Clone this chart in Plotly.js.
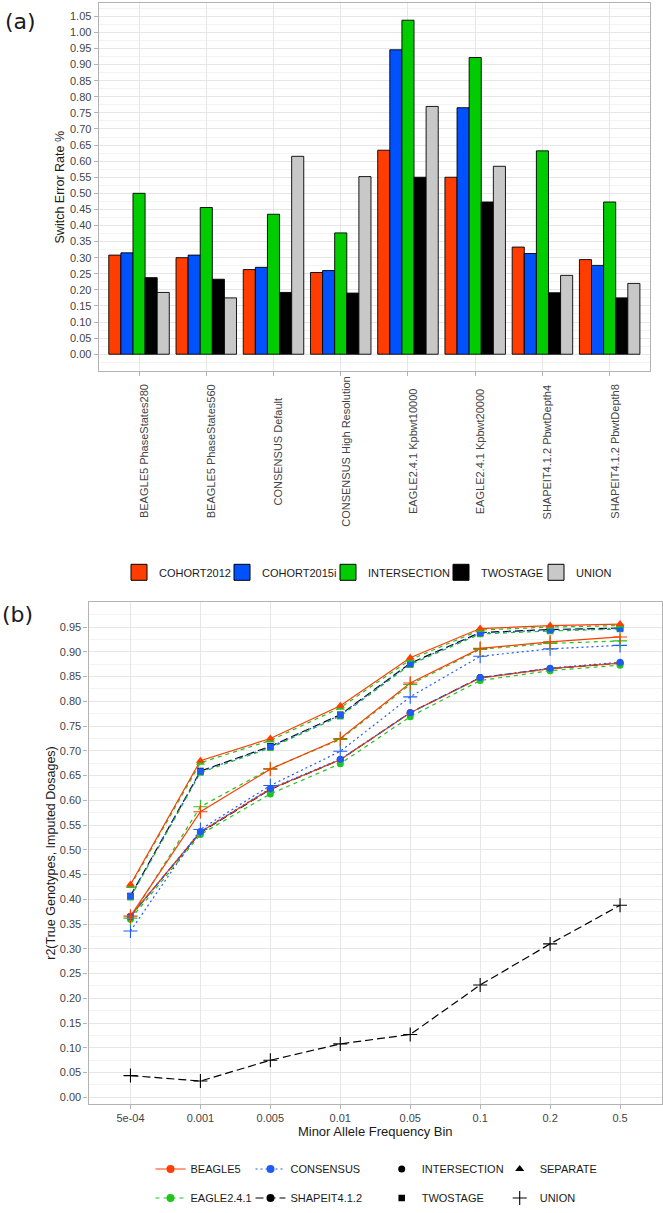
<!DOCTYPE html>
<html>
<head>
<meta charset="utf-8">
<script src="https://cdn.plot.ly/plotly-3.0.1.min.js"></script>
<style>
html,body{margin:0;padding:0;background:#ffffff;}
#chart{width:663px;height:1213px;}
</style>
</head>
<body>
<div id="chart"></div>
<script>
// ---------------- Panel (a): switch error rate ----------------
const methods = ["BEAGLE5 PhaseStates280", "BEAGLE5 PhaseStates560", "CONSENSUS Default",
  "CONSENSUS High Resolution", "EAGLE2.4.1 Kpbwt10000", "EAGLE2.4.1 Kpbwt20000",
  "SHAPEIT4.1.2 PbwtDepth4", "SHAPEIT4.1.2 PbwtDepth8"];
const barNames = ["COHORT2012", "COHORT2015i", "INTERSECTION", "TWOSTAGE", "UNION"];
const serCohort2012   = [0.308, 0.300, 0.263, 0.254, 0.634, 0.550, 0.333, 0.294];
const serCohort2015i  = [0.315, 0.308, 0.270, 0.260, 0.946, 0.766, 0.313, 0.276];
const serIntersection = [0.500, 0.456, 0.435, 0.377, 1.038, 0.922, 0.632, 0.473];
const serTwostage     = [0.238, 0.233, 0.192, 0.190, 0.550, 0.473, 0.191, 0.175];
const serUnion        = [0.192, 0.175, 0.615, 0.552, 0.770, 0.584, 0.245, 0.220];
const yTicksA = [0, 0.05, 0.10, 0.15, 0.20, 0.25, 0.30, 0.35, 0.40, 0.45, 0.50, 0.55,
  0.60, 0.65, 0.70, 0.75, 0.80, 0.85, 0.90, 0.95, 1.00, 1.05];

// ---------------- Panel (b): r2 by MAF bin ----------------
const mafBins = ["5e-04", "0.001", "0.005", "0.01", "0.05", "0.1", "0.2", "0.5"];
const beagle5Separate      = [0.430, 0.680, 0.725, 0.791, 0.888, 0.947, 0.953, 0.956];
const eagleSeparate        = [0.427, 0.676, 0.721, 0.787, 0.884, 0.944, 0.950, 0.953];
const shapeitTwostage      = [0.407, 0.659, 0.709, 0.773, 0.877, 0.939, 0.945, 0.948];
const consensusTwostage    = [0.406, 0.658, 0.708, 0.772, 0.876, 0.938, 0.944, 0.947];
const eagleTwostage        = [0.404, 0.656, 0.706, 0.770, 0.874, 0.936, 0.942, 0.946];
const beagle5Union         = [0.366, 0.577, 0.663, 0.725, 0.837, 0.907, 0.920, 0.930];
const eagleUnion           = [0.362, 0.587, 0.664, 0.723, 0.834, 0.905, 0.917, 0.922];
const consensusUnion       = [0.336, 0.541, 0.630, 0.699, 0.809, 0.891, 0.906, 0.913];
const shapeitIntersection  = [0.366, 0.535, 0.622, 0.682, 0.777, 0.848, 0.866, 0.877];
const beagle5Intersection  = [0.366, 0.536, 0.623, 0.682, 0.777, 0.847, 0.866, 0.877];
const consensusIntersection= [0.365, 0.537, 0.624, 0.683, 0.777, 0.848, 0.867, 0.879];
const eagleIntersection    = [0.360, 0.531, 0.613, 0.674, 0.769, 0.842, 0.862, 0.873];
const shapeitUnion         = [0.044, 0.033, 0.075, 0.108, 0.127, 0.227, 0.310, 0.388];
const yTicksB = [0, 0.05, 0.10, 0.15, 0.20, 0.25, 0.30, 0.35, 0.40, 0.45, 0.50, 0.55,
  0.60, 0.65, 0.70, 0.75, 0.80, 0.85, 0.90, 0.95];

const toolNames = ["BEAGLE5", "EAGLE2.4.1", "CONSENSUS", "SHAPEIT4.1.2"];
const strategyNames = ["INTERSECTION", "TWOSTAGE", "SEPARATE", "UNION"];

// series: [tool, strategy, values] ; drawing order of markers = list order
const seriesB = [
  ["SHAPEIT4.1.2", "UNION", shapeitUnion],
  ["SHAPEIT4.1.2", "INTERSECTION", shapeitIntersection],
  ["BEAGLE5", "INTERSECTION", beagle5Intersection],
  ["EAGLE2.4.1", "INTERSECTION", eagleIntersection],
  ["CONSENSUS", "INTERSECTION", consensusIntersection],
  ["CONSENSUS", "UNION", consensusUnion],
  ["EAGLE2.4.1", "UNION", eagleUnion],
  ["BEAGLE5", "UNION", beagle5Union],
  ["SHAPEIT4.1.2", "TWOSTAGE", shapeitTwostage],
  ["EAGLE2.4.1", "TWOSTAGE", eagleTwostage],
  ["CONSENSUS", "TWOSTAGE", consensusTwostage],
  ["EAGLE2.4.1", "SEPARATE", eagleSeparate],
  ["BEAGLE5", "SEPARATE", beagle5Separate]
];

// ---------------- styles ----------------
const W = 663, H = 1213;
const ML = 88, MR = 1, MT = 3, MB = 98;
const PW = W - ML - MR, PH = H - MT - MB;
const fx = px => (px - ML) / PW;
const fy = py => (H - MB - py) / PH;

const barColors = ["#FF3D00", "#0052FF", "#00CC00", "#000000", "#C8C8C8"];
const barLegendWidths = [58, 61, 68, 50, 40];
const toolStyle = {
  "BEAGLE5":      {color: "#FF3D00", dash: "solid"},
  "CONSENSUS":    {color: "#1F5BF5", dash: "2px,3px"},
  "EAGLE2.4.1":   {color: "#1FC41F", dash: "4px,4px"},
  "SHAPEIT4.1.2": {color: "#000000", dash: "8px,4px"}
};
const stratStyle = {
  "INTERSECTION": {symbol: "circle", size: 7},
  "SEPARATE":     {symbol: "triangle-up", size: 8},
  "TWOSTAGE":     {symbol: "square", size: 6.5},
  "UNION":        {symbol: "cross-thin", size: 10}
};
const FONT = "Liberation Sans, Arial, Helvetica, sans-serif";
const tickColor = "#444444";
const gridMajor = "#E6E6E6", gridMinor = "#F3F3F3", borderCol = "#B3B3B3";
const halfStep = v => v + 0.025;

const traces = [];
// bars (legend drawn by the key traces below, with larger swatches)
[serCohort2012, serCohort2015i, serIntersection, serTwostage, serUnion].forEach((vals, i) => {
  traces.push({
    type: "bar", x: methods, y: vals, name: barNames[i],
    xaxis: "x", yaxis: "y", showlegend: false,
    marker: {color: barColors[i], line: {color: "#000000", width: 0.9}},
    hoverinfo: "skip"
  });
});
barNames.forEach((nm, i) => {
  traces.push({
    type: "scatter", mode: "markers", x: [null], y: [null], name: nm,
    xaxis: "x", yaxis: "y", legend: "legend", legendwidth: barLegendWidths[i],
    marker: {color: barColors[i], symbol: "square", size: 16, line: {color: "#000000", width: 1}},
    hoverinfo: "skip"
  });
});
// lines first (ggplot draws the line layer below the point layer)
seriesB.forEach(s => {
  const st = toolStyle[s[0]];
  traces.push({
    type: "scatter", mode: "lines", x: mafBins, y: s[2], xaxis: "x2", yaxis: "y2",
    line: {color: st.color, dash: st.dash, width: 1.2}, showlegend: false, hoverinfo: "skip"
  });
});
seriesB.forEach(s => {
  const st = toolStyle[s[0]], sh = stratStyle[s[1]];
  const isCross = sh.symbol === "cross-thin";
  traces.push({
    type: "scatter", mode: "markers", x: mafBins, y: s[2], xaxis: "x2", yaxis: "y2",
    marker: {color: st.color, symbol: sh.symbol, size: sh.size,
      line: {color: st.color, width: isCross ? 1.1 : 0}},
    showlegend: false, hoverinfo: "skip"
  });
});
// legend keys for panel (b)
const toolLegendIds = {"BEAGLE5": "legend2", "EAGLE2.4.1": "legend2", "CONSENSUS": "legend3", "SHAPEIT4.1.2": "legend3"};
toolNames.forEach(t => {
  const st = toolStyle[t];
  traces.push({
    type: "scatter", mode: "lines+markers", x: [null], y: [null], xaxis: "x2", yaxis: "y2",
    name: t, legend: toolLegendIds[t], legendgroup: t,
    line: {color: st.color, dash: st.dash, width: 1.2},
    marker: {color: st.color, symbol: "circle", size: 8}, hoverinfo: "skip"
  });
});
const stratLegendIds = {"INTERSECTION": "legend4", "TWOSTAGE": "legend4", "SEPARATE": "legend5", "UNION": "legend5"};
strategyNames.forEach(s => {
  const sh = stratStyle[s];
  traces.push({
    type: "scatter", mode: "markers", x: [null], y: [null], xaxis: "x2", yaxis: "y2",
    name: s, legend: stratLegendIds[s], legendgroup: s,
    marker: {color: "#000000", symbol: sh.symbol, size: sh.size,
      line: {color: "#000000", width: sh.symbol === "cross-thin" ? 1.1 : 0}},
    hoverinfo: "skip"
  });
});

// ---------------- annotations ----------------
const annotations = [];
methods.forEach((m, i) => {
  annotations.push({
    xref: "x", yref: "paper", x: i, y: fy(456), text: m, textangle: -90,
    showarrow: false, xanchor: "center", yanchor: "middle", xshift: 4.5,
    font: {family: FONT, size: 11, color: tickColor}
  });
});
annotations.push({xref: "paper", yref: "paper", x: fx(3), y: fy(22), text: "(a)", showarrow: false,
  xanchor: "left", yanchor: "middle", font: {family: "DejaVu Sans, sans-serif", size: 22, color: "#1a1a1a"}});
annotations.push({xref: "paper", yref: "paper", x: fx(0), y: fy(621), text: "(b)", showarrow: false,
  xanchor: "left", yanchor: "middle", font: {family: "DejaVu Sans, sans-serif", size: 22, color: "#1a1a1a"}});

const baseAxis = {
  showline: true, mirror: true, linecolor: borderCol, linewidth: 1.2,
  showgrid: true, gridcolor: gridMajor, gridwidth: 1, zeroline: false,
  ticks: "outside", ticklen: 4, tickcolor: borderCol, tickwidth: 1,
  tickfont: {family: FONT, size: 11, color: tickColor}
};
const legendBase = {font: {family: FONT, size: 11, color: "#1a1a1a"}, bgcolor: "rgba(0,0,0,0)",
  borderwidth: 0, itemclick: false, itemdoubleclick: false, itemsizing: "trace"};

const layout = {
  width: W, height: H, margin: {l: ML, r: MR, t: MT, b: MB, pad: 0},
  paper_bgcolor: "#ffffff", plot_bgcolor: "#ffffff",
  font: {family: FONT, size: 11, color: "#1a1a1a"},
  barmode: "group", bargap: 0.1, bargroupgap: 0, hovermode: false,
  xaxis: Object.assign({}, baseAxis, {
    domain: [fx(98.7), fx(650)], anchor: "y", type: "category",
    categoryorder: "array", categoryarray: methods, range: [-0.6, 7.6],
    showticklabels: false
  }),
  yaxis: Object.assign({}, baseAxis, {
    domain: [fy(374.6), fy(3.5)], anchor: "x", range: [-0.0519, 1.0899],
    tickmode: "array", tickvals: yTicksA, tickformat: ".2f",
    minor: {tickmode: "array", tickvals: [-0.025].concat(yTicksA.map(halfStep)),
      showgrid: true, gridcolor: gridMinor, gridwidth: 1, ticks: ""},
    title: {text: "Switch Error Rate %", standoff: 2, font: {family: FONT, size: 12.5, color: "#1a1a1a"}}
  }),
  xaxis2: Object.assign({}, baseAxis, {
    domain: [fx(88.5), fx(662)], anchor: "y2", type: "category",
    categoryorder: "array", categoryarray: mafBins, range: [-0.6, 7.6],
    title: {text: "Minor Allele Frequency Bin", standoff: 0, font: {family: FONT, size: 13, color: "#1a1a1a"}}
  }),
  yaxis2: Object.assign({}, baseAxis, {
    domain: [fy(1114.7), fy(608.3)], anchor: "x2", range: [-0.0128, 1.0],
    tickmode: "array", tickvals: yTicksB, tickformat: ".2f",
    minor: {tickmode: "array", tickvals: yTicksB.map(halfStep),
      showgrid: true, gridcolor: gridMinor, gridwidth: 1, ticks: ""},
    title: {text: "r2(True Genotypes, Imputed Dosages)", standoff: 0.5, font: {family: FONT, size: 12.5, color: "#1a1a1a"}}
  }),
  legend: Object.assign({}, legendBase, {orientation: "h", x: fx(119), xanchor: "left",
    y: fy(578), yanchor: "middle", traceorder: "normal"}),
  legend2: Object.assign({}, legendBase, {orientation: "v", x: fx(150.5), xanchor: "left",
    y: fy(1166), yanchor: "top", tracegroupgap: 10}),
  legend3: Object.assign({}, legendBase, {orientation: "v", x: fx(250.5), xanchor: "left",
    y: fy(1166), yanchor: "top", tracegroupgap: 10}),
  legend4: Object.assign({}, legendBase, {orientation: "v", x: fx(381.7), xanchor: "left",
    y: fy(1166), yanchor: "top", tracegroupgap: 10}),
  legend5: Object.assign({}, legendBase, {orientation: "v", x: fx(499.7), xanchor: "left",
    y: fy(1166), yanchor: "top", tracegroupgap: 10}),
  annotations: annotations,
  showlegend: true
};

Plotly.newPlot("chart", traces, layout, {displayModeBar: false, responsive: false});
</script>
</body>
</html>
